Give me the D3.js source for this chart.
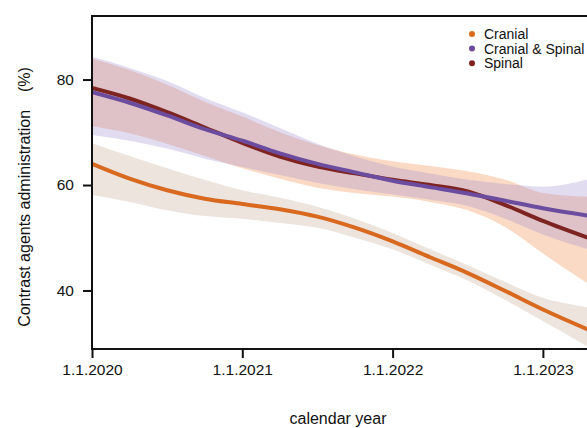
<!DOCTYPE html>
<html><head><meta charset="utf-8">
<script src="https://cdn.jsdelivr.net/npm/d3@7"></script>
<style>
html,body{margin:0;padding:0;background:#fff;}
text{font-family:"Liberation Sans",Arial,sans-serif;fill:#111;}
</style></head>
<body><svg id="chart" width="587" height="428"></svg>
<script>
// ---- data ----
const years = [2020.0, 2020.25, 2020.5, 2020.75, 2021.0, 2021.25, 2021.5, 2021.75, 2022.0, 2022.25, 2022.5, 2022.75, 2023.0, 2023.3];
const cranial      = [64.0, 61.2, 59.0, 57.4, 56.4, 55.4, 54.0, 51.9, 49.3, 46.3, 43.3, 39.9, 36.4, 32.6];
const cranialLo    = [58.1, 56.8, 55.2, 54.1, 53.6, 52.8, 51.9, 50.0, 47.8, 44.9, 41.9, 38.2, 34.2, 29.3];
const cranialHi    = [67.9, 65.5, 63.2, 61.0, 59.0, 57.6, 55.9, 53.6, 50.9, 47.8, 44.8, 41.6, 38.6, 36.8];
const spinal       = [78.4, 76.4, 73.8, 70.9, 68.0, 65.4, 63.5, 62.2, 61.0, 60.0, 58.8, 56.2, 53.2, 50.0];
const spinalLo     = [71.2, 69.8, 67.8, 65.5, 63.2, 61.2, 59.5, 58.5, 57.8, 56.8, 55.2, 52.0, 47.0, 41.3];
const spinalHi     = [84.0, 81.8, 79.0, 75.8, 73.0, 70.0, 67.6, 65.8, 64.5, 63.6, 62.6, 61.0, 58.5, 57.8];
const both         = [77.6, 75.6, 73.2, 70.6, 68.4, 66.0, 64.0, 62.4, 60.8, 59.6, 58.4, 57.0, 55.6, 54.2];
const bothLo       = [69.5, 68.4, 66.9, 65.0, 63.4, 61.9, 60.4, 59.2, 58.2, 57.2, 56.0, 53.6, 50.6, 47.8];
const bothHi       = [84.3, 82.2, 79.7, 76.5, 73.8, 70.8, 67.8, 65.4, 63.5, 62.2, 61.0, 60.2, 59.7, 61.1];
const seriesNames  = ["Cranial", "Cranial & Spinal", "Spinal"];
const xTickValues  = [2020, 2021, 2022, 2023];
const xTickLabels  = ["1.1.2020", "1.1.2021", "1.1.2022", "1.1.2023"];
const yTickValues  = [40, 60, 80];

// ---- layout ----
const svg = d3.select("#chart");
const L = 92, R = 600, T = 16, B = 349;
const x = d3.scaleLinear().domain([2020, 2023.38]).range([L, R]);
const y = d3.scaleLinear().domain([28.9, 92.05]).range([B, T]);

const colors = {
  "Cranial": "#d8691f",
  "Cranial & Spinal": "#6b4c9e",
  "Spinal": "#7e2420"
};
const bandFill = {
  "Cranial": "rgba(170,130,100,0.22)",
  "Spinal": "rgba(240,150,90,0.35)",
  "Cranial & Spinal": "rgba(160,140,210,0.30)"
};

svg.append("clipPath").attr("id","plotclip").append("rect")
  .attr("x", L).attr("y", T).attr("width", R-L).attr("height", B-T);
const g = svg.append("g").attr("clip-path","url(#plotclip)");

const curve = d3.curveMonotoneX;
function band(lo, hi){
  return d3.area().curve(curve)
    .x((d,i)=>x(years[i])).y0((d,i)=>y(lo[i])).y1((d,i)=>y(hi[i]))(years);
}
function line(vals){
  return d3.line().curve(curve).x((d,i)=>x(years[i])).y((d,i)=>y(vals[i]))(years);
}

g.append("path").attr("d", band(cranialLo, cranialHi)).attr("fill", bandFill["Cranial"]);
g.append("path").attr("d", band(spinalLo, spinalHi)).attr("fill", bandFill["Spinal"]);
g.append("path").attr("d", band(bothLo, bothHi)).attr("fill", bandFill["Cranial & Spinal"]);

g.append("path").attr("d", line(cranial)).attr("fill","none").attr("stroke", colors["Cranial"]).attr("stroke-width",4);
g.append("path").attr("d", line(spinal)).attr("fill","none").attr("stroke", colors["Spinal"]).attr("stroke-width",4);
g.append("path").attr("d", line(both)).attr("fill","none").attr("stroke", colors["Cranial & Spinal"]).attr("stroke-width",4);

// ---- box ----
svg.append("rect").attr("x", L).attr("y", T).attr("width", R-L+10).attr("height", B-T)
  .attr("fill","none").attr("stroke","#111").attr("stroke-width",2);

// ---- axes ----
const xAxis = d3.axisBottom(x).tickValues(xTickValues)
  .tickFormat((d,i)=>xTickLabels[i]).tickSize(9).tickPadding(6);
const gx = svg.append("g").attr("transform",`translate(0,${B})`).call(xAxis);
gx.select(".domain").remove();
gx.selectAll(".tick line").attr("stroke","#111").attr("stroke-width",2);
gx.selectAll(".tick text").attr("font-size","15.5px").attr("fill","#111");

const yAxis = d3.axisLeft(y).tickValues(yTickValues).tickSize(9).tickPadding(9);
const gy = svg.append("g").attr("transform",`translate(${L},0)`).call(yAxis);
gy.select(".domain").remove();
gy.selectAll(".tick line").attr("stroke","#111").attr("stroke-width",2);
gy.selectAll(".tick text").attr("font-size","15.5px").attr("fill","#111");

// ---- titles ----
svg.append("text").attr("x", 338).attr("y", 424).attr("text-anchor","middle")
  .attr("font-size","16px").text("calendar year");
svg.append("text").attr("transform","translate(30,197) rotate(-90)").attr("text-anchor","middle")
  .attr("font-size","16px").style("white-space","pre")
  .text("Contrast agents administration    (%)");

// ---- legend ----
const lg = svg.append("g");
seriesNames.forEach((n,i)=>{
  const yy = 34 + i*14.6;
  lg.append("circle").attr("cx", 472).attr("cy", yy).attr("r", 3).attr("fill", colors[n]);
  lg.append("text").attr("x", 484).attr("y", yy).attr("dy","0.35em")
    .attr("font-size","14px").attr("fill","#222").text(n);
});
</script></body></html>
